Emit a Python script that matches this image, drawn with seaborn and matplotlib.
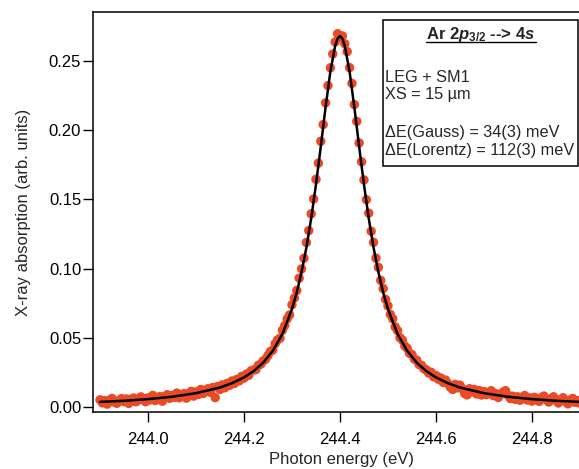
import numpy as np
import pandas as pd
import matplotlib
matplotlib.use("Agg")
import matplotlib.pyplot as plt
import seaborn as sns
from matplotlib.patches import Rectangle
from matplotlib.lines import Line2D

# ---------------- data ----------------
energy = [
    243.900, 243.905, 243.910, 243.915, 243.920, 243.925, 243.930, 243.935, 243.940, 243.945,
    243.950, 243.955, 243.960, 243.965, 243.970, 243.975, 243.980, 243.985, 243.990, 243.995,
    244.000, 244.005, 244.010, 244.015, 244.020, 244.025, 244.030, 244.035, 244.040, 244.045,
    244.050, 244.055, 244.060, 244.065, 244.070, 244.075, 244.080, 244.085, 244.090, 244.095,
    244.100, 244.105, 244.110, 244.115, 244.120, 244.125, 244.130, 244.135, 244.140, 244.145,
    244.150, 244.155, 244.160, 244.165, 244.170, 244.175, 244.180, 244.185, 244.190, 244.195,
    244.200, 244.205, 244.210, 244.215, 244.220, 244.225, 244.230, 244.235, 244.240, 244.245,
    244.250, 244.255, 244.260, 244.265, 244.270, 244.275, 244.280, 244.285, 244.290, 244.295,
    244.300, 244.305, 244.310, 244.315, 244.320, 244.325, 244.330, 244.335, 244.340, 244.345,
    244.350, 244.355, 244.360, 244.365, 244.370, 244.375, 244.380, 244.385, 244.390, 244.395,
    244.400, 244.405, 244.410, 244.415, 244.420, 244.425, 244.430, 244.435, 244.440, 244.445,
    244.450, 244.455, 244.460, 244.465, 244.470, 244.475, 244.480, 244.485, 244.490, 244.495,
    244.500, 244.505, 244.510, 244.515, 244.520, 244.525, 244.530, 244.535, 244.540, 244.545,
    244.550, 244.555, 244.560, 244.565, 244.570, 244.575, 244.580, 244.585, 244.590, 244.595,
    244.600, 244.605, 244.610, 244.615, 244.620, 244.625, 244.630, 244.635, 244.640, 244.645,
    244.650, 244.655, 244.660, 244.665, 244.670, 244.675, 244.680, 244.685, 244.690, 244.695,
    244.700, 244.705, 244.710, 244.715, 244.720, 244.725, 244.730, 244.735, 244.740, 244.745,
    244.750, 244.755, 244.760, 244.765, 244.770, 244.775, 244.780, 244.785, 244.790, 244.795,
    244.800, 244.805, 244.810, 244.815, 244.820, 244.825, 244.830, 244.835, 244.840, 244.845,
    244.850, 244.855, 244.860, 244.865, 244.870, 244.875, 244.880, 244.885, 244.890, 244.895,
    244.900,
]

absorption = [
    0.0052, 0.0030, 0.0046, 0.0021, 0.0050, 0.0062, 0.0035, 0.0027, 0.0047, 0.0061,
    0.0039, 0.0058, 0.0026, 0.0056, 0.0065, 0.0038, 0.0049, 0.0073, 0.0060, 0.0038,
    0.0066, 0.0052, 0.0084, 0.0047, 0.0065, 0.0076, 0.0042, 0.0075, 0.0089, 0.0063,
    0.0083, 0.0070, 0.0101, 0.0067, 0.0086, 0.0097, 0.0064, 0.0098, 0.0113, 0.0079,
    0.0109, 0.0091, 0.0127, 0.0098, 0.0121, 0.0132, 0.0106, 0.0141, 0.0068, 0.0148,
    0.0127, 0.0160, 0.0139, 0.0171, 0.0157, 0.0188, 0.0170, 0.0199, 0.0189, 0.0221,
    0.0209, 0.0238, 0.0229, 0.0262, 0.0268, 0.0271, 0.0302, 0.0310, 0.0333, 0.0345,
    0.0372, 0.0401, 0.0412, 0.0458, 0.0485, 0.0497, 0.0555, 0.0589, 0.0637, 0.0665,
    0.0739, 0.0788, 0.0842, 0.0931, 0.0998, 0.1075, 0.1189, 0.1275, 0.1396, 0.1503,
    0.1645, 0.1762, 0.1920, 0.2041, 0.2198, 0.2322, 0.2451, 0.2551, 0.2638, 0.2697,
    0.2672, 0.2681, 0.2625, 0.2568, 0.2452, 0.2338, 0.2185, 0.2064, 0.1908, 0.1772,
    0.1641, 0.1498, 0.1401, 0.1270, 0.1190, 0.1076, 0.1009, 0.0915, 0.0856, 0.0778,
    0.0731, 0.0669, 0.0638, 0.0579, 0.0552, 0.0501, 0.0484, 0.0441, 0.0425, 0.0388,
    0.0379, 0.0346, 0.0338, 0.0307, 0.0301, 0.0277, 0.0268, 0.0245, 0.0251, 0.0219,
    0.0228, 0.0201, 0.0210, 0.0178, 0.0195, 0.0169, 0.0143, 0.0127, 0.0163, 0.0139,
    0.0158, 0.0131, 0.0097, 0.0088, 0.0132, 0.0110, 0.0127, 0.0094, 0.0119, 0.0087,
    0.0112, 0.0089, 0.0106, 0.0118, 0.0082, 0.0097, 0.0069, 0.0093, 0.0108, 0.0118,
    0.0085, 0.0061, 0.0078, 0.0056, 0.0074, 0.0049, 0.0072, 0.0083, 0.0051, 0.0066,
    0.0043, 0.0070, 0.0059, 0.0041, 0.0068, 0.0079, 0.0054, 0.0036, 0.0061, 0.0074,
    0.0048, 0.0029, 0.0055, 0.0067, 0.0040, 0.0023, 0.0051, 0.0062, 0.0034, 0.0046,
    0.0027,
]

fit_energy = [
    243.900, 243.950, 244.000, 244.050, 244.100, 244.150, 244.175, 244.200, 244.220, 244.240,
    244.260, 244.280, 244.300, 244.310, 244.320, 244.330, 244.340, 244.350, 244.360, 244.370,
    244.380, 244.390, 244.395, 244.400, 244.405, 244.410, 244.420, 244.430, 244.440, 244.450,
    244.460, 244.470, 244.480, 244.490, 244.500, 244.520, 244.540, 244.560, 244.580, 244.600,
    244.625, 244.650, 244.700, 244.750, 244.800, 244.850, 244.900,
]
fit_absorption = [
    0.0037, 0.0045, 0.0057, 0.0074, 0.0100, 0.0141, 0.0172, 0.0214, 0.0259, 0.0320,
    0.0406, 0.0527, 0.0708, 0.0828, 0.0975, 0.1152, 0.1362, 0.1608, 0.1881, 0.2165,
    0.2424, 0.2610, 0.2662, 0.2680, 0.2662, 0.2610, 0.2424, 0.2165, 0.1881, 0.1608,
    0.1362, 0.1152, 0.0975, 0.0828, 0.0708, 0.0527, 0.0406, 0.0320, 0.0259, 0.0214,
    0.0172, 0.0141, 0.0100, 0.0074, 0.0057, 0.0045, 0.0037,
]

x_ticks = [244.0, 244.2, 244.4, 244.6, 244.8]
y_ticks = [0.00, 0.05, 0.10, 0.15, 0.20, 0.25]

title_line = r"Ar 2$\mathbfit{p}_{\mathbf{3/2}}$ --> 4$\mathbfit{s}$"
info_lines = ["LEG + SM1", "XS = 15 µm", "", "ΔE(Gauss) = 34(3) meV", "ΔE(Lorentz) = 112(3) meV"]

# ---------------- style ----------------
sns.set_style("ticks")
plt.rcParams["font.family"] = ["Liberation Sans", "DejaVu Sans"]
plt.rcParams["mathtext.fontset"] = "custom"
plt.rcParams["mathtext.rm"] = "Liberation Sans"
plt.rcParams["mathtext.it"] = "Liberation Sans:italic"
plt.rcParams["mathtext.bf"] = "Liberation Sans:bold"
plt.rcParams["mathtext.bfit"] = "Liberation Sans:bold:italic"

W, H = 579, 469
fig = plt.figure(figsize=(W / 100, H / 100), dpi=100)
ax = fig.add_axes([93 / W, 57 / H, 497 / W, 400 / H])

df = pd.DataFrame({"energy": energy, "absorption": absorption})
fit_df = pd.DataFrame({"energy": fit_energy, "absorption": fit_absorption})

sns.scatterplot(data=df, x="energy", y="absorption", ax=ax, color="#EB4A27",
                s=46, edgecolor="none", linewidth=0, zorder=2)
sns.lineplot(data=fit_df, x="energy", y="absorption", ax=ax, color="black",
             linewidth=1.8, zorder=3)

ax.set_xlim(243.8854, 244.921)
ax.set_ylim(-0.0036, 0.2854)
ax.set_xticks(x_ticks)
ax.set_xticklabels([f"{v:.1f}" for v in x_ticks])
ax.set_yticks(y_ticks)
ax.set_yticklabels([f"{v:.2f}" for v in y_ticks])

for side in ["left", "bottom", "top", "right"]:
    ax.spines[side].set_visible(True)
    ax.spines[side].set_linewidth(1.1)
    ax.spines[side].set_color("black")

ax.tick_params(axis="x", direction="out", length=7, width=1.0, pad=7.5, labelsize=12, colors="black")
ax.tick_params(axis="y", direction="out", length=7, width=1.0, pad=1.5, labelsize=12, colors="black")
ax.set_xlabel("Photon energy (eV)", fontsize=12, labelpad=3.5)
ax.set_ylabel("X-ray absorption (arb. units)", fontsize=12, labelpad=13)

# ---------------- annotation box ----------------
bx0, by0, bx1, by1 = 383, 20, 578, 166
fig.add_artist(Rectangle((bx0 / W, 1 - by1 / H), (bx1 - bx0) / W, (by1 - by0) / H,
                         transform=fig.transFigure, facecolor="white",
                         edgecolor="black", linewidth=1.1, zorder=5))
t = fig.text(481 / W, 1 - 34 / H, title_line, ha="center", va="center",
             fontsize=12, fontweight="bold", zorder=6)
ys = [77, 95, 113, 132, 150]
for line, yy in zip(info_lines, ys):
    if line:
        fig.text(385 / W, 1 - yy / H, line, ha="left", va="center", fontsize=11.7, zorder=6)

fig.canvas.draw()
bb = t.get_window_extent()
fig.add_artist(Line2D([bb.x0 / W, bb.x1 / W], [(bb.y0 + 1) / H, (bb.y0 + 1) / H],
                      transform=fig.transFigure, color="black", linewidth=1.0, zorder=6))

fig.savefig("out.png", dpi=100)
